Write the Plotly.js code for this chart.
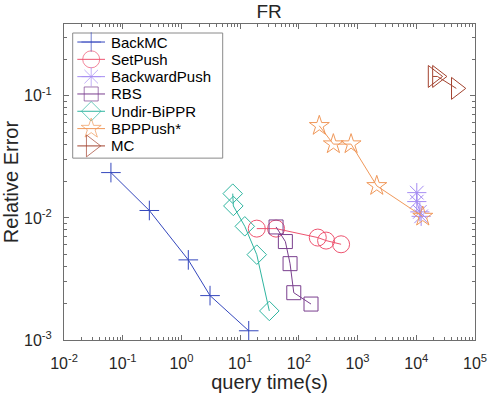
<!DOCTYPE html>
<html>
<head>
<meta charset="utf-8">
<script src="https://cdn.plot.ly/plotly-3.0.1.min.js"></script>
<style>
  body { margin: 0; background: #fff; }
  #plot { width: 491px; height: 393px; }
</style>
</head>
<body>
<div id="plot"></div>
<script>
// values (query time in s, relative error)
const backmcX = [0.063, 0.284, 1.31, 3.07, 14.0];
const backmcY = [0.0235, 0.0115, 0.00453, 0.00231, 0.00119];
const setpushX = [19.2, 40.9, 210, 291, 524];
const setpushY = [0.00817, 0.00817, 0.0069, 0.00652, 0.00608];
const backwardX = [10200, 10200, 11500, 12100];
const backwardY = [0.0161, 0.0136, 0.0112, 0.0103];
const rbsX = [40.9, 58.9, 70.8, 81.9, 161];
const rbsY = [0.00843, 0.0064, 0.00422, 0.00244, 0.00197];
const biX = [7.48, 7.66, 12.0, 19.2, 31.4];
const biY = [0.0158, 0.01253, 0.00853, 0.005, 0.00173];
const bppX = [223, 387, 775, 2123, 12900];
const bppY = [0.0568, 0.0402, 0.0402, 0.0183, 0.01026];
const mcX = [19300, 22900, 48000];
const mcY = [0.144, 0.144, 0.115];

const xTickVals = [1e-2, 1e-1, 1e0, 1e1, 1e2, 1e3, 1e4, 1e5];
const xTickText = ["-2", "-1", "0", "1", "2", "3", "4", "5"].map((e) => `10<sup>${e}</sup>`);
const yTickVals = [1e-3, 1e-2, 1e-1];
const yTickText = ["-3", "-2", "-1"].map((e) => `10<sup>${e}</sup>`);

const series = [
  { name: "BackMC", x: backmcX, y: backmcY, color: "#3447bd", symbol: "cross-thin-open", size: 14 },
  { name: "SetPush", x: setpushX, y: setpushY, color: "#ee5470", symbol: "circle-open", size: 17 },
  { name: "BackwardPush", x: backwardX, y: backwardY, color: "#a58cf2", symbol: "asterisk-open", size: 16 },
  { name: "RBS", x: rbsX, y: rbsY, color: "#7a3f8e", symbol: "square-open", size: 14 },
  { name: "Undir-BiPPR", x: biX, y: biY, color: "#2fb5a0", symbol: "diamond-open", size: 15 },
  { name: "BPPPush*", x: bppX, y: bppY, color: "#f0985a", symbol: "star-open", size: 15 },
  { name: "MC", x: mcX, y: mcY, color: "#a3432f", symbol: "triangle-right-open", size: 19 },
];

function minorTicks(lo, hi) {
  const vals = [];
  for (let d = lo; d < hi; d++) {
    for (let k = 2; k <= 9; k++) vals.push(k * Math.pow(10, d));
  }
  return vals;
}

// data traces on the log axes
const traces = series.map((s) => ({
  x: s.x,
  y: s.y,
  name: s.name,
  type: "scatter",
  mode: "lines+markers",
  line: { color: s.color, width: 1 },
  marker: { symbol: s.symbol, size: s.size, color: s.color, line: { color: s.color, width: 1 } },
}));

// MATLAB-style legend box, laid out on a hidden pixel-unit overlay (x2/y2)
// plotly's own legend can't pack rows this tightly
const legendBox = { left: 8.7, right: 158.7, top: 9, bottom: 134 };
const legendRow0 = 18, legendRowGap = 17.3;
const legendAnnotations = [];
series.forEach((s, i) => {
  const ry = legendRow0 + i * legendRowGap;
  traces.push({
    x: [13.3, 27.2, 41],
    y: [ry, ry, ry],
    xaxis: "x2",
    yaxis: "y2",
    type: "scatter",
    mode: "lines+markers",
    showlegend: false,
    hoverinfo: "skip",
    line: { color: s.color, width: 1 },
    marker: { symbol: s.symbol, size: [0, s.size, 0], color: s.color, line: { color: s.color, width: 1 } },
  });
  legendAnnotations.push({
    xref: "x2",
    yref: "y2",
    x: 45,
    y: ry,
    xanchor: "left",
    yanchor: "middle",
    text: s.name,
    showarrow: false,
    font: { size: 15, color: "#000" },
  });
});

const axisCommon = {
  type: "log",
  showgrid: false,
  zeroline: false,
  showline: true,
  linecolor: "#6e6e6e",
  linewidth: 1,
  mirror: "ticks",
  ticks: "inside",
  ticklen: 5,
  tickcolor: "#6e6e6e",
  tickmode: "array",
};

const layout = {
  width: 491,
  height: 393,
  margin: { l: 64, r: 16, t: 24, b: 53 },
  paper_bgcolor: "#fff",
  plot_bgcolor: "#fff",
  font: { family: "Liberation Sans, Arial, sans-serif", color: "#262626" },
  title: { text: "FR", font: { size: 19 }, x: 0.548, xanchor: "center", y: 0.972, yanchor: "middle" },
  showlegend: false,
  xaxis: Object.assign({}, axisCommon, {
    range: [-2, 5],
    tickvals: xTickVals,
    ticktext: xTickText,
    ticklabelstandoff: 9,
    tickfont: { size: 16, color: "#262626" },
    minor: { tickvals: minorTicks(-2, 5), ticks: "inside", ticklen: 3, tickcolor: "#6e6e6e" },
    title: { text: "query time(s)", font: { size: 20 }, standoff: 0 },
  }),
  yaxis: Object.assign({}, axisCommon, {
    range: [-3, -0.412],
    tickvals: yTickVals,
    ticktext: yTickText,
    ticklabelstandoff: 8,
    tickfont: { size: 16, color: "#262626" },
    minor: { tickvals: minorTicks(-3, 0), ticks: "inside", ticklen: 3, tickcolor: "#6e6e6e" },
    title: { text: "Relative Error", font: { size: 20 }, standoff: 0 },
  }),
  xaxis2: { overlaying: "x", anchor: "y2", range: [0, 411], visible: false, fixedrange: true },
  yaxis2: { overlaying: "y", anchor: "x2", range: [315.7, 0], visible: false, fixedrange: true },
  shapes: [
    {
      type: "rect",
      xref: "x2",
      yref: "y2",
      x0: legendBox.left,
      x1: legendBox.right,
      y0: legendBox.top,
      y1: legendBox.bottom,
      fillcolor: "#fff",
      line: { color: "#8a8a8a", width: 1 },
      layer: "below",
    },
  ],
  annotations: legendAnnotations,
};

Plotly.newPlot("plot", traces, layout, { displayModeBar: false, staticPlot: true });
</script>
</body>
</html>
